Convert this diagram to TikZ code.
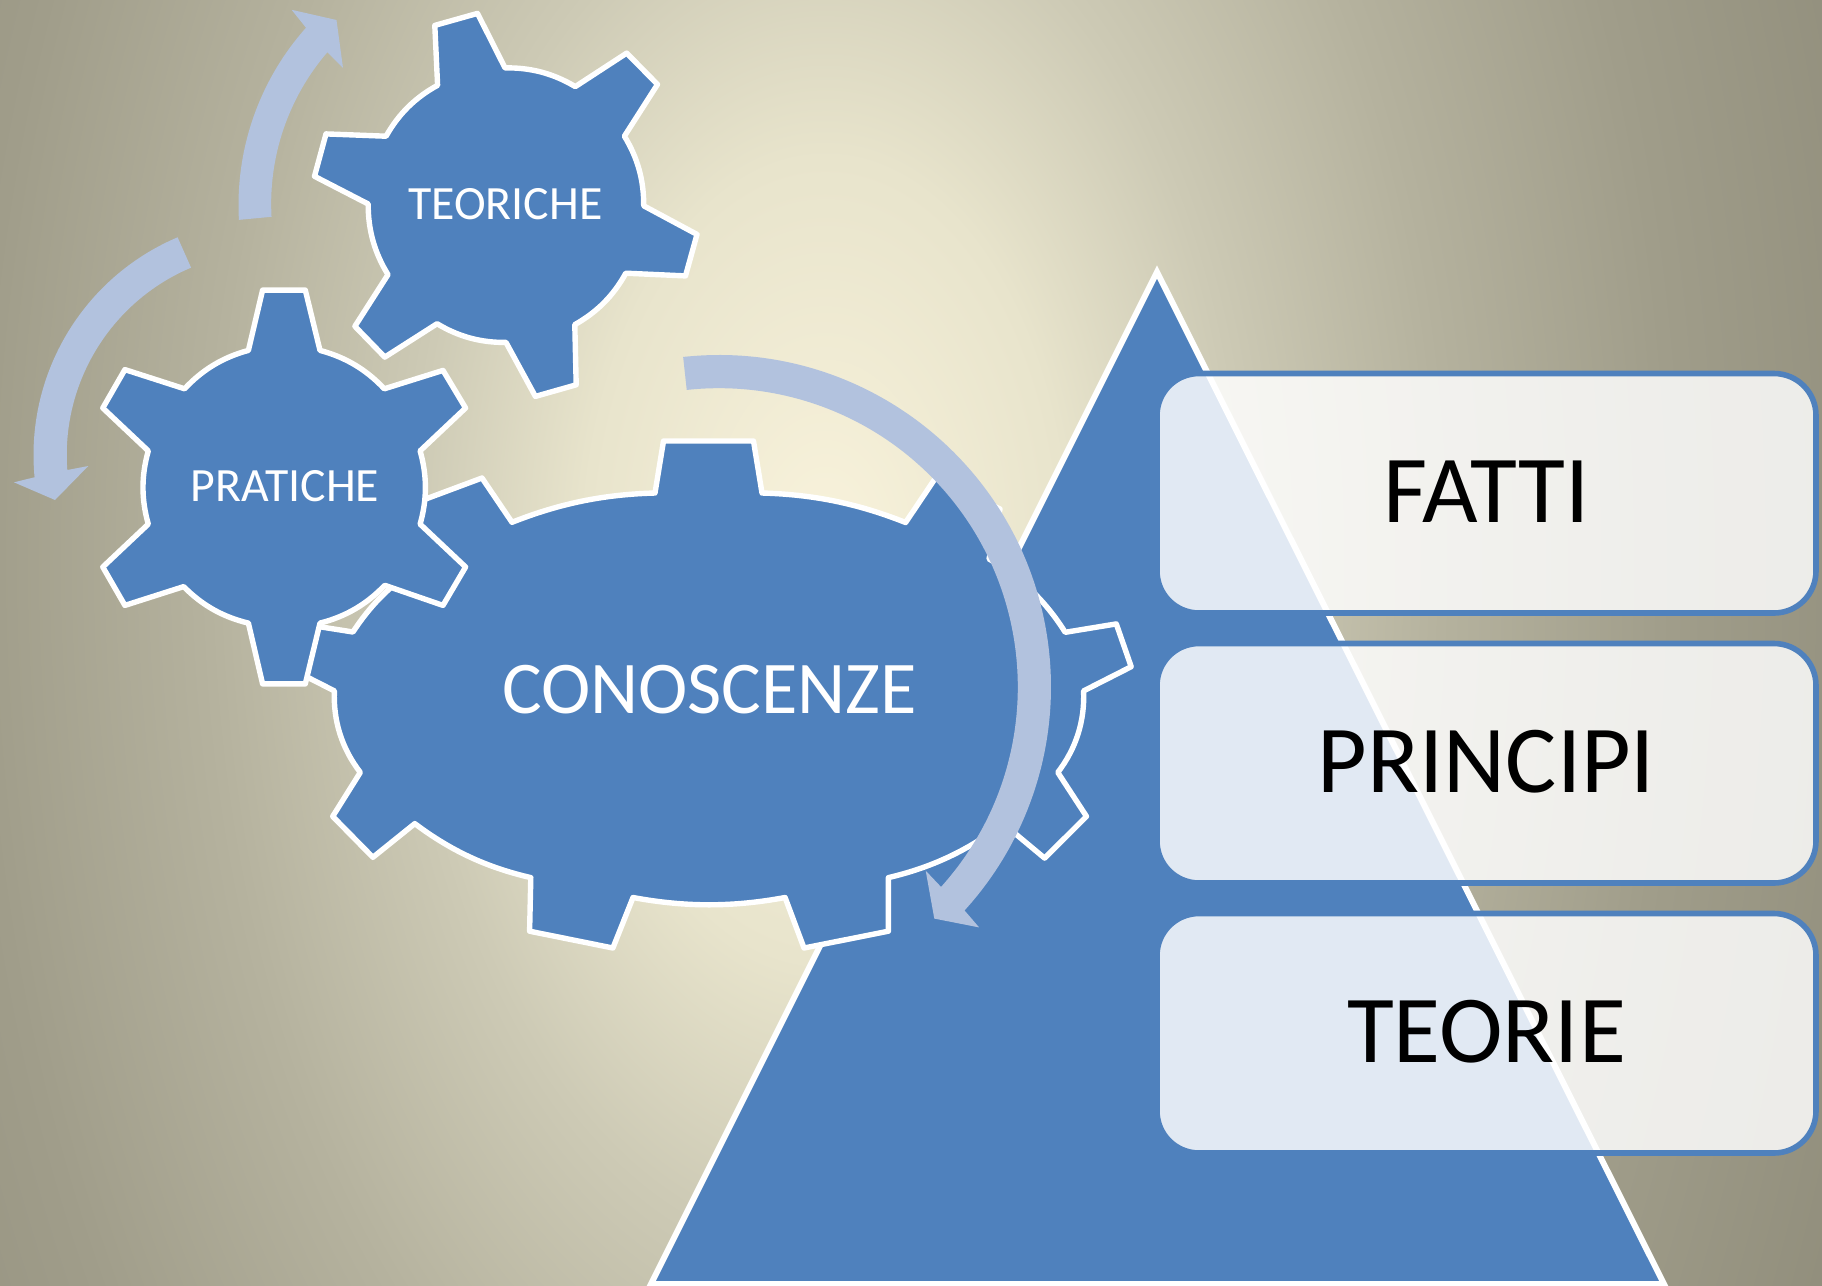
\documentclass[tikz,border=0pt]{standalone}
\usepackage{fontspec}
\setmainfont{Carlito}
\definecolor{bgA}{HTML}{F9F3DC}
\definecolor{bgB}{HTML}{E8E4CC}
\definecolor{bgC}{HTML}{CDCAB5}
\definecolor{bgD}{HTML}{B5B29E}
\definecolor{bgE}{HTML}{A09D8A}
\definecolor{bgF}{HTML}{8E8B79}
\definecolor{bgG}{HTML}{8A8774}
\definecolor{gearblue}{HTML}{4F81BD}
\definecolor{arrowblue}{HTML}{B2C2DE}
\pgfdeclareradialshading{bgshade}{\pgfpointorigin}{color(0bp)=(bgA); color(4.5bp)=(bgB); color(7.7bp)=(bgC); color(11.5bp)=(bgD); color(15.8bp)=(bgE); color(21.5bp)=(bgF); color(25bp)=(bgG); color(50bp)=(bgG)}
\tikzset{
  gear/.style={fill=gearblue,draw=white,line width=2.7pt,line join=round},
  tri/.style={fill=gearblue,draw=white,line width=3pt,line join=miter},
  bendarc/.style={bend left=#1,looseness=.9},
  cyc/.style={fill=arrowblue},
  geartext/.style={text=white,inner sep=0pt,font=\fontsize{23.9}{28}\selectfont},
  bigtext/.style={text=white,inner sep=0pt,font=\fontsize{37.2}{44}\selectfont},
  panel/.style={draw=gearblue,line width=2.8pt,fill=white,fill opacity=.83,text opacity=1,draw opacity=1,
    rounded corners=21pt,minimum width=329.5pt,minimum height=119.75pt,inner sep=0pt,text=black,
    font=\fontsize{48}{56}\selectfont},
}
\begin{document}
\begin{tikzpicture}[x=0.5pt,y=0.5pt]
\useasboundingbox (0,-1286) rectangle (1822,0);
\begin{scope}
\clip (0,-1286) rectangle (1822,0);
\shade[shading=bgshade] (825,-560) ellipse (1340 and 2230);
% pyramid
\draw[tri] (1157,-272) -- (1664,-1284) -- (651,-1284) -- cycle;
% large gear
\draw[gear] (663.5,-441) -- (753.5,-441) -- (762,-493) to[bendarc=10] (905.6,-522.5) -- (935.5,-478) -- (1000,-509) -- (989,-559)
  to[bendarc=14] (1065.2,-632.3) -- (1116.3,-623.9) -- (1131.2,-666.7) -- (1083.6,-690.9)
  to[bendarc=20] (1057.8,-772.4) -- (1086.5,-816.4) -- (1044.6,-858.1) -- (1003.2,-823.6)
  to[bendarc=12] (888.4,-877.6) -- (888.4,-931.2) -- (804,-948) -- (785.1,-897.5)
  to[bendarc=10.5] (633,-897.5) -- (612.9,-948) -- (529.6,-931.2) -- (530.8,-877.6)
  to[bendarc=12] (414.8,-823.6) -- (372.9,-857.3) -- (332.7,-816.4) -- (360.3,-772.4)
  to[bendarc=20] (334.4,-690.9) -- (286.8,-666.7) -- (301.7,-623.9) -- (353,-632)
  to[bendarc=14] (429,-561) -- (415,-503) -- (482,-478) -- (512,-522.3)
  to[bendarc=10] (655,-493) -- cycle;
% left gear
\draw[gear] (262.6,-290.1) -- (305.3,-290.1) -- (320,-350.4) to[bendarc=16] (384.3,-388.8)
  -- (443,-370.4) -- (465.6,-408) -- (420.1,-450.9) to[bendarc=16] (420.1,-524.1)
  -- (465.6,-567) -- (443,-605.4) -- (384.8,-585.3) to[bendarc=16] (320,-623.1)
  -- (305.3,-683.9) -- (262.6,-683.9) -- (248.4,-623.1) to[bendarc=16] (183.7,-586.6)
  -- (124.9,-605.4) -- (102.8,-567) -- (148.3,-524.1) to[bendarc=16] (148.3,-450.9)
  -- (102.8,-408) -- (124.9,-369.6) -- (184.6,-388.8) to[bendarc=16] (248.4,-350.4) -- cycle;
% top gear
\draw[gear] (434.8,-25.4) -- (477.5,-13.4) -- (505,-67.9) to[bendarc=16] (575.3,-86.6)
  -- (626.7,-53.1) -- (657.5,-84.4) -- (624.4,-136.2) to[bendarc=16] (643.7,-205.8)
  -- (697,-234.4) -- (685.5,-275.9) -- (625.8,-273.2) to[bendarc=16] (574.8,-324.6)
  -- (576.2,-384.8) -- (535.4,-396.4) -- (506,-342.4) to[bendarc=16] (437.1,-323.7)
  -- (384.8,-357.1) -- (354.9,-326.3) -- (388,-274.6) to[bendarc=16] (368.2,-204)
  -- (314.5,-176.3) -- (326,-133.9) -- (386.1,-136.2) to[bendarc=16] (437.6,-85.3) -- cycle;
% labels
\node[bigtext] (conoscenze) at (709.5,-690) {CONOSCENZE};
\node[geartext] (pratiche) at (285,-486) {PRATICHE};
\node[geartext] (teoriche) at (505.5,-204) {TEORICHE};
% cycle arrows
\fill[cyc] (719,-687) ++(96.2:332) arc[start angle=96.2,end angle=-42.3,radius=332]
  -- (979.1,-927.4) -- (934.3,-918.6) -- (925.7,-870.7) -- (941.05,-886.9)
  arc[start angle=-42,end angle=96.2,radius=298.8] -- cycle;
\fill[cyc] (505,-205) ++(183.2:266.5) arc[start angle=183.2,end angle=138.3,radius=266.5]
  -- (291.6,-9.8) -- (336.5,-20) -- (343,-67.9) -- (327.4,-52.2)
  arc[start angle=139.3,end angle=183.2,radius=232.5] -- cycle;
\fill[cyc] (270,-455) ++(113:236.5) arc[start angle=113,end angle=185.4,radius=236.5]
  -- (14,-482.3) -- (55,-500) -- (88.3,-466) -- (67.3,-470)
  arc[start angle=184.2,end angle=112.9,radius=203.5] -- cycle;
\end{scope}
% panels
\node[panel] (fatti) at (1486.5,-493.25) {\raisebox{1.5pt}{FATTI}};
\node[panel] (principi) at (1486.5,-763.25) {\raisebox{1.5pt}{PRINCIPI}};
\node[panel] (teorie) at (1486.5,-1033.25) {\raisebox{1.5pt}{TEORIE}};
\end{tikzpicture}
\end{document}
